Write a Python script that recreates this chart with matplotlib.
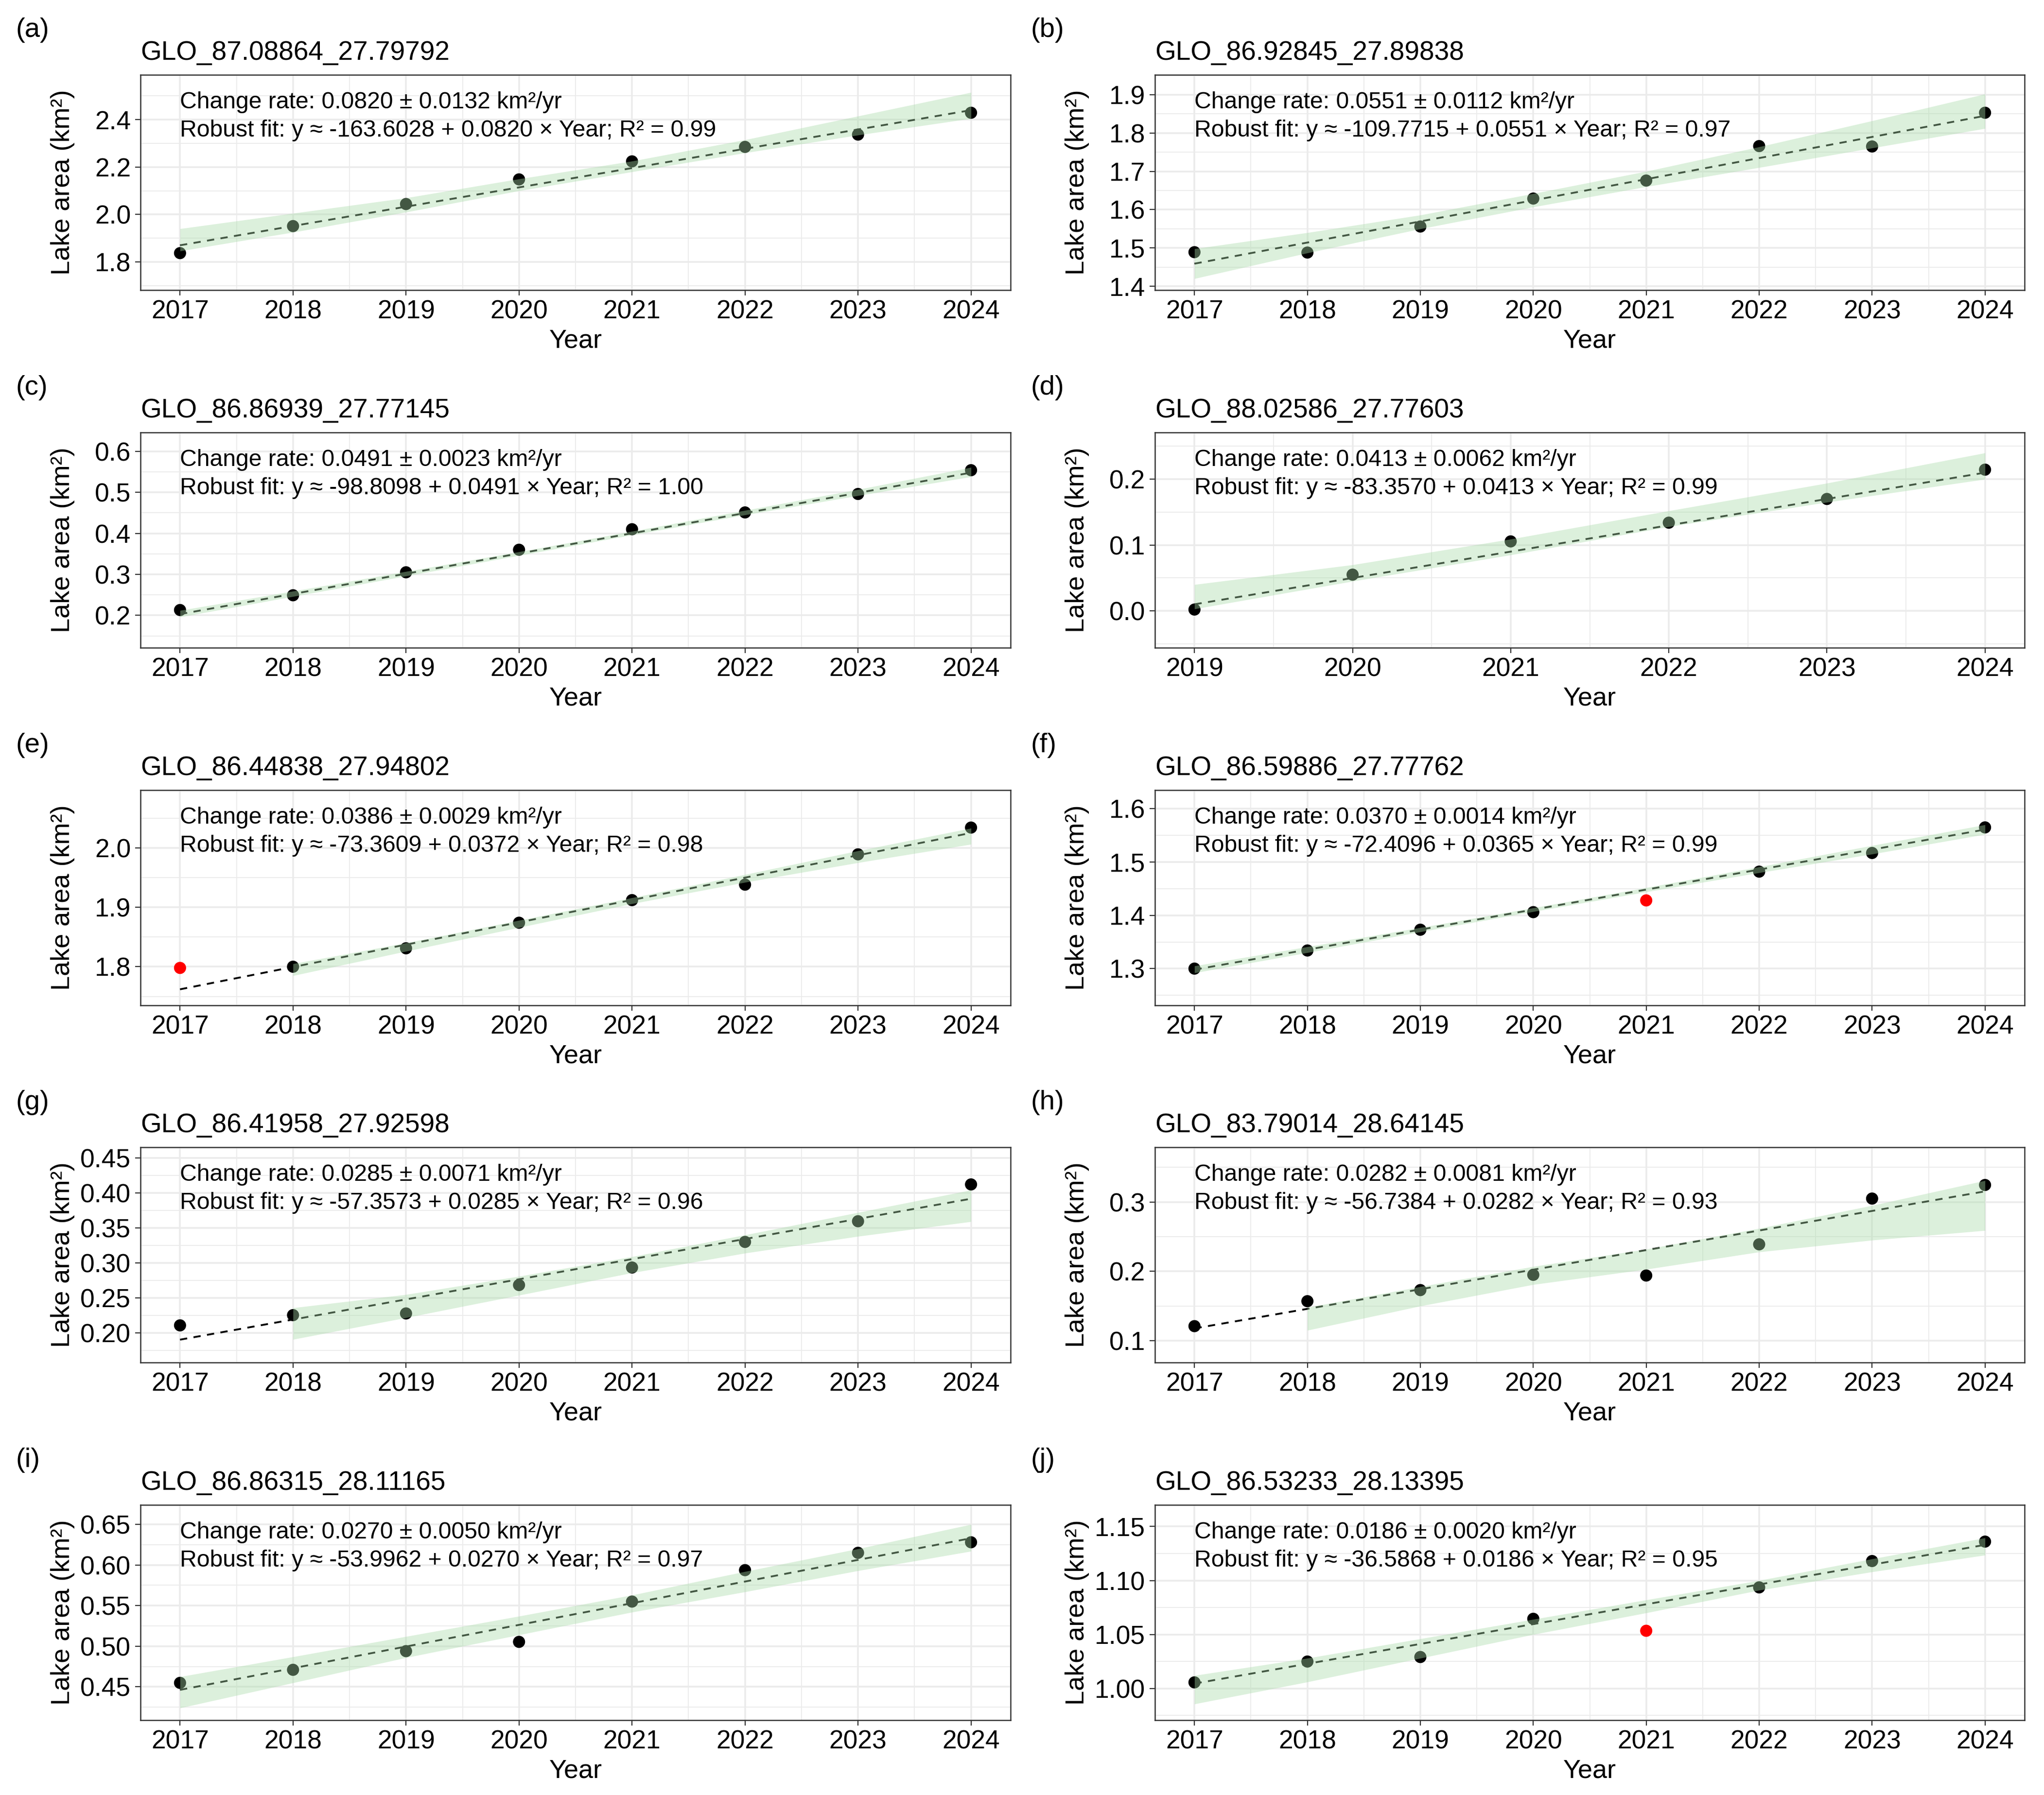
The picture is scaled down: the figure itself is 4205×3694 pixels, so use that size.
import numpy as np
import matplotlib
matplotlib.use('Agg')
import matplotlib.pyplot as plt
from matplotlib.ticker import FixedLocator

plt.rcParams['font.family'] = ['Liberation Sans', 'DejaVu Sans']

# panel tags and lake ids
tags = ['(a)', '(b)', '(c)', '(d)', '(e)', '(f)', '(g)', '(h)', '(i)', '(j)']
titles = ['GLO_87.08864_27.79792', 'GLO_86.92845_27.89838', 'GLO_86.86939_27.77145',
          'GLO_88.02586_27.77603', 'GLO_86.44838_27.94802', 'GLO_86.59886_27.77762',
          'GLO_86.41958_27.92598', 'GLO_83.79014_28.64145', 'GLO_86.86315_28.11165',
          'GLO_86.53233_28.13395']

rate_text = ['0.0820 ± 0.0132', '0.0551 ± 0.0112', '0.0491 ± 0.0023', '0.0413 ± 0.0062',
             '0.0386 ± 0.0029', '0.0370 ± 0.0014', '0.0285 ± 0.0071', '0.0282 ± 0.0081',
             '0.0270 ± 0.0050', '0.0186 ± 0.0020']
fit_text = ['-163.6028 + 0.0820', '-109.7715 + 0.0551', '-98.8098 + 0.0491', '-83.3570 + 0.0413',
            '-73.3609 + 0.0372', '-72.4096 + 0.0365', '-57.3573 + 0.0285', '-56.7384 + 0.0282',
            '-53.9962 + 0.0270', '-36.5868 + 0.0186']
r2_text = ['0.99', '0.97', '1.00', '0.99', '0.98', '0.99', '0.96', '0.93', '0.97', '0.95']

yrs = [2017, 2018, 2019, 2020, 2021, 2022, 2023, 2024]
yrs_d = [2019, 2020, 2021, 2022, 2023, 2024]
years = [yrs, yrs, yrs, yrs_d, yrs, yrs, yrs, yrs, yrs, yrs]

# lake area (km2)
areas = [
    [1.837, 1.951, 2.044, 2.148, 2.224, 2.285, 2.337, 2.429],
    [1.489, 1.488, 1.556, 1.629, 1.676, 1.766, 1.765, 1.853],
    [0.213, 0.249, 0.305, 0.360, 0.410, 0.451, 0.496, 0.554],
    [0.002, 0.055, 0.1055, 0.134, 0.170, 0.2145],
    [1.798, 1.800, 1.831, 1.874, 1.912, 1.938, 1.989, 2.034],
    [1.300, 1.334, 1.373, 1.406, 1.428, 1.482, 1.517, 1.565],
    [0.211, 0.2256, 0.228, 0.2685, 0.2935, 0.330, 0.3595, 0.412],
    [0.121, 0.157, 0.173, 0.195, 0.194, 0.239, 0.305, 0.3246],
    [0.4549, 0.471, 0.494, 0.5054, 0.555, 0.5937, 0.615, 0.628],
    [1.0056, 1.0249, 1.0291, 1.0645, 1.0534, 1.0936, 1.118, 1.136],
]
# excluded years (red points)
outlier_years = [[], [], [], [], [2017], [2021], [], [], [], [2021]]

# robust fit line, value at first and last year
fit_start = [1.870, 1.459, 0.203, 0.010, 1.762, 1.298, 0.1906, 0.1177, 0.4463, 1.0045]
fit_end = [2.440, 1.845, 0.548, 0.210, 2.025, 1.561, 0.3916, 0.3154, 0.633, 1.133]

# uncertainty band
band_years = [yrs, yrs, yrs, yrs_d, yrs[1:], yrs, yrs[1:], yrs[1:], yrs, yrs]
band_lo = [
    [1.846, 1.925, 2.010, 2.100, 2.180, 2.260, 2.335, 2.405],
    [1.420, 1.487, 1.550, 1.607, 1.660, 1.710, 1.761, 1.812],
    [0.196, 0.246, 0.296, 0.346, 0.396, 0.445, 0.492, 0.538],
    [0.003, 0.045, 0.085, 0.128, 0.165, 0.200],
    [1.785, 1.826, 1.866, 1.906, 1.942, 1.975, 2.006],
    [1.292, 1.330, 1.369, 1.407, 1.444, 1.480, 1.515, 1.552],
    [0.191, 0.222, 0.254, 0.286, 0.314, 0.338, 0.359],
    [0.115, 0.150, 0.181, 0.203, 0.228, 0.245, 0.259],
    [0.424, 0.455, 0.486, 0.514, 0.542, 0.567, 0.593, 0.617],
    [0.9856, 1.006, 1.028, 1.050, 1.070, 1.091, 1.108, 1.1235],
]
band_hi = [
    [1.940, 2.005, 2.070, 2.150, 2.225, 2.315, 2.415, 2.515],
    [1.498, 1.540, 1.586, 1.642, 1.700, 1.764, 1.832, 1.902],
    [0.212, 0.259, 0.307, 0.355, 0.405, 0.456, 0.507, 0.561],
    [0.040, 0.070, 0.109, 0.152, 0.194, 0.240],
    [1.805, 1.840, 1.878, 1.916, 1.955, 1.995, 2.033],
    [1.305, 1.341, 1.377, 1.414, 1.452, 1.491, 1.531, 1.570],
    [0.236, 0.255, 0.281, 0.309, 0.340, 0.372, 0.404],
    [0.148, 0.178, 0.207, 0.232, 0.262, 0.295, 0.331],
    [0.4625, 0.487, 0.512, 0.537, 0.563, 0.592, 0.620, 0.650],
    [1.012, 1.028, 1.046, 1.064, 1.082, 1.100, 1.120, 1.1395],
]

ylims = [(1.681, 2.589), (1.39, 1.952), (0.121, 0.646), (-0.056, 0.271), (1.735, 2.097),
         (1.231, 1.635), (0.158, 0.465), (0.0685, 0.379), (0.409, 0.674), (0.9706, 1.170)]
yticks = [[1.8, 2.0, 2.2, 2.4], [1.4, 1.5, 1.6, 1.7, 1.8, 1.9], [0.2, 0.3, 0.4, 0.5, 0.6],
          [0.0, 0.1, 0.2], [1.8, 1.9, 2.0], [1.3, 1.4, 1.5, 1.6],
          [0.20, 0.25, 0.30, 0.35, 0.40, 0.45], [0.1, 0.2, 0.3],
          [0.45, 0.50, 0.55, 0.60, 0.65], [1.00, 1.05, 1.10, 1.15]]
ydec = [1, 1, 1, 1, 1, 1, 2, 1, 2, 2]

W, H = 4205, 3694
fig = plt.figure(figsize=(W / 300, H / 300), dpi=300)

col_left = [289, 2376]
col_width = [1790, 1789]
row_top = [154, 890, 1626, 2361, 3097]
ax_h = 443
tag_x = [33, 2120]

grid_col = '#ebebeb'
border_col = '#333333'

for i in range(10):
    r, c = divmod(i, 2)
    left = col_left[c] / W
    bottom = 1 - (row_top[r] + ax_h) / H
    ax = fig.add_axes([left, bottom, col_width[c] / W, ax_h / H])

    x = np.array(years[i])
    y = np.array(areas[i])
    cols = ['red' if v in outlier_years[i] else 'black' for v in x]
    ax.scatter(x, y, s=36, c=cols, linewidths=0, zorder=3)
    ax.plot([x[0], x[-1]], [fit_start[i], fit_end[i]], color='black', lw=0.9,
            ls=(0, (4, 3.5)), zorder=4)
    ax.fill_between(band_years[i], band_lo[i], band_hi[i], color='#a8dba8', alpha=0.4,
                    lw=0, zorder=5)

    span = x[-1] - x[0]
    ax.set_xlim(x[0] - 0.05 * span, x[-1] + 0.05 * span)
    ax.set_ylim(*ylims[i])

    # ggplot-like grid
    ax.xaxis.set_major_locator(FixedLocator(x))
    ax.xaxis.set_minor_locator(FixedLocator(x[:-1] + 0.5))
    yt = np.array(yticks[i])
    step = yt[1] - yt[0]
    ymin = np.concatenate([[yt[0] - step / 2], yt + step / 2])
    ax.yaxis.set_major_locator(FixedLocator(yt))
    ax.yaxis.set_minor_locator(FixedLocator(ymin))
    ax.set_yticklabels([f'{v:.{ydec[i]}f}' for v in yt])
    ax.set_axisbelow(True)
    ax.grid(which='major', color=grid_col, lw=0.85)
    ax.grid(which='minor', color=grid_col, lw=0.45)
    ax.tick_params(which='major', length=2.75, width=0.55, color=border_col,
                   labelsize=12.8, labelcolor='black', pad=2)
    ax.tick_params(which='minor', length=0)
    for sp in ax.spines.values():
        sp.set_color(border_col)
        sp.set_linewidth(0.6)

    ax.set_xlabel('Year', fontsize=13)
    ax.set_ylabel('Lake area (km²)', fontsize=13)
    ax.xaxis.set_label_coords(0.5, -0.18)
    ax.yaxis.set_label_coords(-0.0754 * 1790 / col_width[c], 0.5)

    ax.set_title(titles[i], loc='left', pad=7.4, fontsize=13.2)

    tr = ax.get_xaxis_transform()
    ax.text(x[0], 0.844, f'Change rate: {rate_text[i]} km²/yr', transform=tr,
            fontsize=11.55, va='baseline', ha='left', zorder=6)
    ax.text(x[0], 0.713, f'Robust fit: y ≈ {fit_text[i]} × Year; R² = {r2_text[i]}',
            transform=tr, fontsize=11.55, va='baseline', ha='left', zorder=6)

    fig.text(tag_x[c] / W, 1 - (row_top[r] - 92) / H, tags[i], fontsize=13.5,
             ha='left', va='center')

fig.savefig('out.png', dpi=300, facecolor='white')
